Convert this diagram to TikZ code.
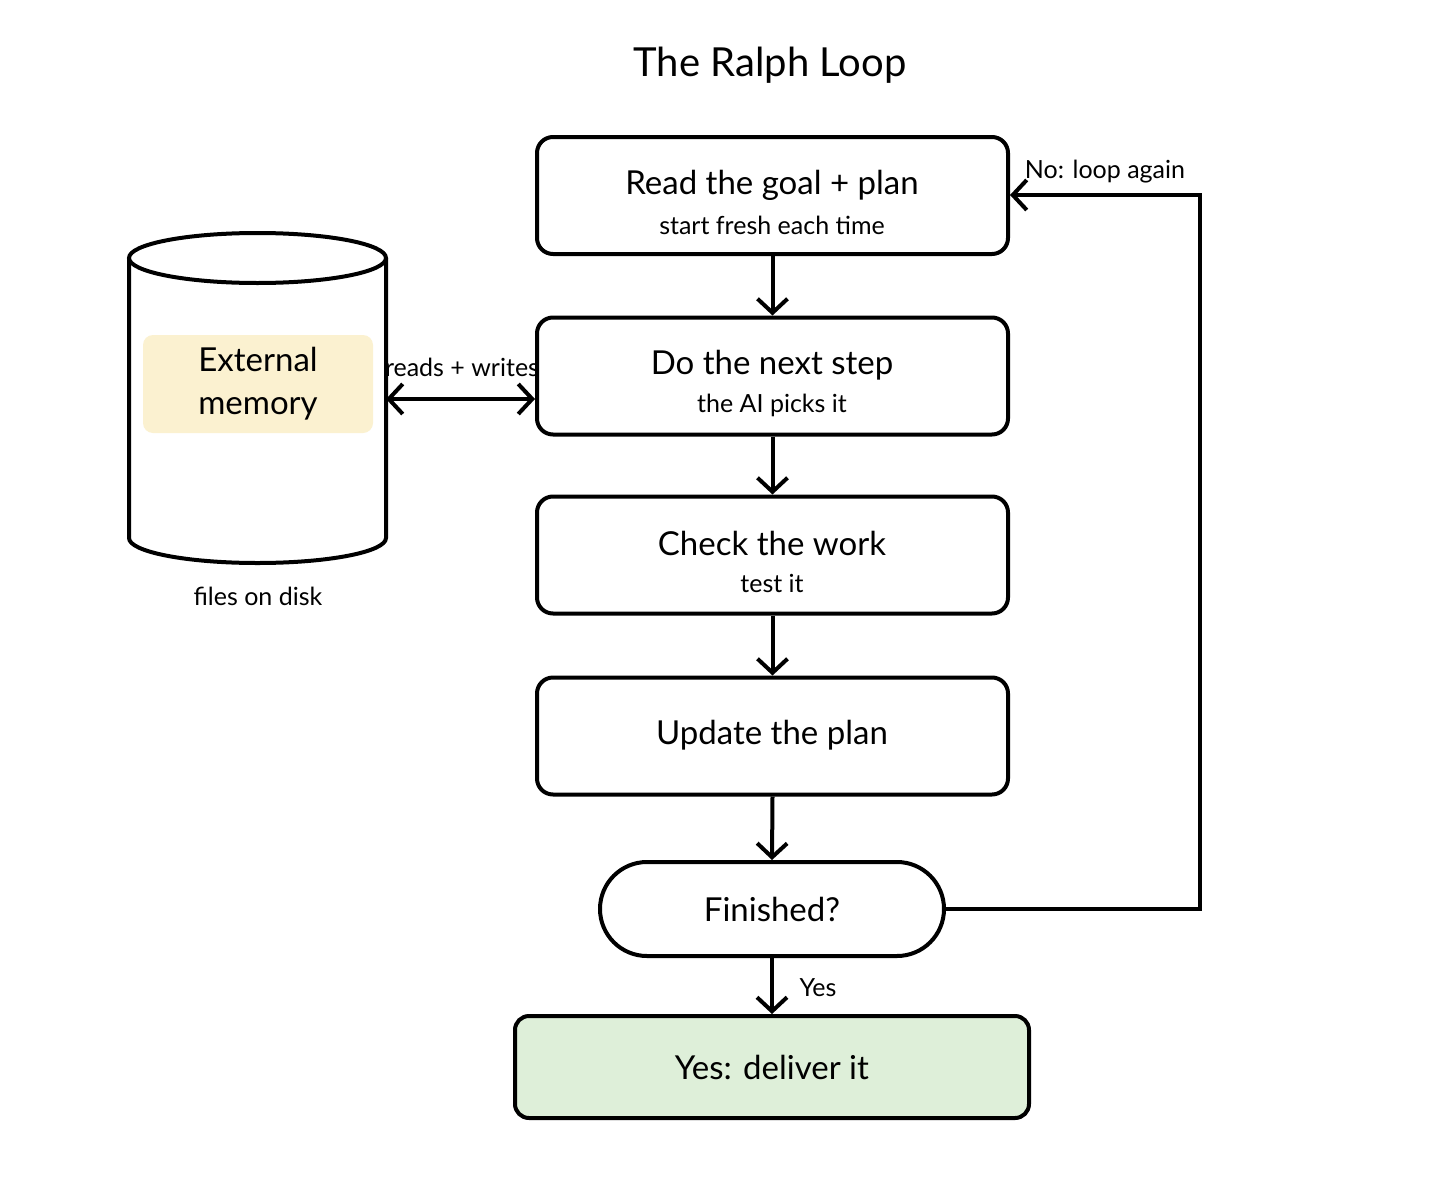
\documentclass[tikz,border=0pt]{standalone}
\usepackage{fontspec}
\setmainfont{Lato}
\usetikzlibrary{arrows.meta,shapes.misc}
\definecolor{memfill}{HTML}{FBF1D0}
\definecolor{okfill}{HTML}{DEEFD9}
\tikzset{
  stepbox/.style={draw=black, line width=4pt, rounded corners=16pt, minimum width=471pt, minimum height=117pt, fill=white, inner sep=0pt},
  main/.style={font=\fontsize{33}{37}\selectfont},
  sub/.style={font=\fontsize{25}{29}\selectfont},
  tip/.tip={Straight Barb[length=14pt,width=30pt,line width=4pt]},
  conn/.style={line width=4pt, -tip},
  lbl/.style={font=\fontsize{25}{29}\selectfont, inner sep=1pt}
}
\begin{document}
\begin{tikzpicture}[x=1pt,y=-1pt]
\useasboundingbox (0,0) rectangle (1456,1199);
\node[font=\fontsize{40}{44}\selectfont] (title) at (770,65) {The Ralph Loop};

\node[stepbox] (s1) at (772.5,195.5) {};
\node[main] (s1a) at (772,185) {Read the goal + plan};
\node[sub] (s1b) at (772,225) {start fresh each time};

\node[stepbox] (s2) at (772.5,376) {};
\node[main] (s2a) at (772,365) {Do the next step};
\node[sub] (s2b) at (772,405) {the AI picks it};

\node[stepbox] (s3) at (772.5,555) {};
\node[main] (s3a) at (772,543) {Check the work};
\node[sub] (s3b) at (772,583) {test it};

\node[stepbox] (s4) at (772.5,736) {};
\node[main] (s4a) at (772,735) {Update the plan};

\node[draw=black, line width=4pt, rounded rectangle, minimum width=344pt, minimum height=94pt, inner sep=0pt, main] (fin) at (772,909) {Finished?};

\node[stepbox, fill=okfill, minimum width=514pt, minimum height=102pt, rounded corners=14pt, main] (done) at (772,1067) {Yes: deliver it};

% cylinder
\draw[line width=4pt, fill=white] (129,258) -- (129,538) arc[start angle=180, end angle=0, x radius=128.5, y radius=25] -- (386,258);
\draw[line width=4pt, fill=white] (257.5,258) ellipse[x radius=128.5, y radius=25];
\coordinate (cylR) at (386,399);
\node[fill=memfill, rounded corners=10pt, minimum width=230pt, minimum height=98pt, inner sep=0pt, align=center, main, text width=230pt] (mem) at (258,384) {External\\[6pt]memory};
\node[lbl] (disk) at (258,596) {files on disk};

% connectors
\draw[line width=4pt, tip-tip] (cylR) -- (s2.west |- cylR);
\node[lbl] (rw) at (462,367) {reads + writes};

\draw[conn] (s1.south) -- (s2.north);
\draw[conn] (s2.south) -- (s3.north);
\draw[conn] (s3.south) -- (s4.north);
\draw[conn] (s4.south) -- (fin.north);
\draw[conn] (fin.south) -- (done.north);
\node[lbl] (yes) at (818,988) {Yes};

\coordinate (c1) at (1200,909);
\coordinate (c2) at (1200,195);
\draw[conn] (fin.east) -- (c1) -- (c2) -- (s1.east |- c2);
\node[lbl] (no) at (1105,172) {No: loop again};
\end{tikzpicture}
\end{document}
